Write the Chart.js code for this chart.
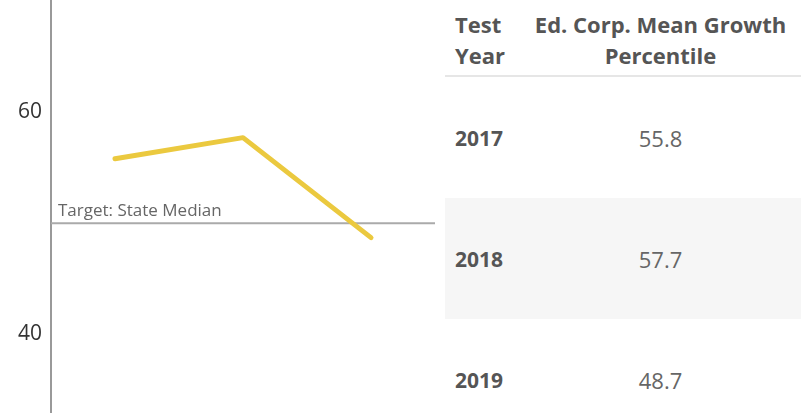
<!DOCTYPE html>
<html>
<head>
<meta charset="utf-8">
<script src="https://cdn.jsdelivr.net/npm/chart.js@4"></script>
<style>
  body { margin: 0; background: #fff; font-family: "Open Sans", sans-serif; }
  #wrap { position: relative; width: 801px; height: 417px; overflow: hidden; }
  #growthChart { position: absolute; left: 0; top: 0; }
  #growthTable { position: absolute; left: 445px; top: 0; width: 356px; border-collapse: collapse; }
  #growthTable th { font-weight: bold; font-size: 22px; line-height: 31px; color: #555; vertical-align: top;
                    padding: 9px 0 0 0; height: 66px; border-bottom: 2px solid #e6e6e6; }
  #growthTable th.yr { text-align: left; padding-left: 10px; width: 65px; }
  #growthTable td { height: 121px; padding: 0; vertical-align: middle; }
  #growthTable td.yr { font-weight: bold; font-size: 21px; color: #555; padding-left: 10px; }
  #growthTable td.val { font-size: 22px; color: #666; text-align: center; }
  #growthTable tr.alt td { background: #f6f6f6; }
</style>
</head>
<body>
<div id="wrap">
  <canvas id="growthChart" width="440" height="417"></canvas>
  <table id="growthTable"></table>
</div>
<script>
// ---- data ----
var years = ['2017', '2018', '2019'];
var meanGrowth = [55.8, 57.7, 48.7];
var yTicks = [40, 60];
var targetValue = 50;
var targetLabel = 'Target: State Median';
var headYear = ['Test', 'Year'];
var headValue = ['Ed. Corp. Mean Growth', 'Percentile'];

// ---- table ----
function buildTable() {
    var t = document.getElementById('growthTable');
    var html = '<tr><th class="yr">' + headYear.join('<br>') + '</th><th>' + headValue.join('<br>') + '</th></tr>';
    years.forEach(function (y, i) {
        html += '<tr' + (i % 2 == 1 ? ' class="alt"' : '') + '><td class="yr">' + y + '</td><td class="val">' + meanGrowth[i].toFixed(1) + '</td></tr>';
    });
    t.innerHTML = html;
}
buildTable();

// ---- target line plugin ----
var targetPlugin = {
    id: 'targetLine',
    beforeDatasetsDraw: function (chart) {
        var ctx = chart.ctx, area = chart.chartArea;
        var y = chart.scales.y.getPixelForValue(targetValue);
        ctx.save();
        ctx.strokeStyle = '#aaaaaa';
        ctx.lineWidth = 2;
        ctx.beginPath();
        ctx.moveTo(area.left, y);
        ctx.lineTo(area.right, y);
        ctx.stroke();
        ctx.fillStyle = '#666';
        ctx.font = '17px "Open Sans"';
        ctx.textBaseline = 'alphabetic';
        ctx.fillText(targetLabel, area.left + 7, y - 7);
        ctx.restore();
    }
};

var ctxGrowth = document.getElementById('growthChart');
var chartGrowth = new Chart(ctxGrowth, {
    type: 'line',
    data: {
        labels: years,
        datasets: [{
            data: meanGrowth,
            borderColor: '#ebc93f',
            borderWidth: 5,
            borderCapStyle: 'round',
            borderJoinStyle: 'round',
            pointRadius: 0,
            fill: false,
            tension: 0
        }]
    },
    options: {
        responsive: false,
        animation: false,
        layout: { padding: { top: 1, right: 5, bottom: 5, left: 0 } },
        plugins: { legend: { display: false }, tooltip: { enabled: false } },
        scales: {
            x: { offset: true, display: false },
            y: {
                min: 33,
                max: 70,
                afterBuildTicks: function (scale) {
                    scale.ticks = yTicks.map(function (v) { return { value: v }; });
                },
                afterFit: function (scale) {
                    scale.width = 51;
                    // labels sit well inside the axis, no edge padding needed
                    scale.paddingTop = 0;
                    scale.paddingBottom = 0;
                },
                grid: { display: false, drawTicks: false },
                border: { color: '#999', width: 2 },
                ticks: { color: '#333', font: { family: 'Open Sans', size: 21 }, padding: 9 }
            }
        }
    },
    plugins: [targetPlugin]
});
</script>
</body>
</html>
